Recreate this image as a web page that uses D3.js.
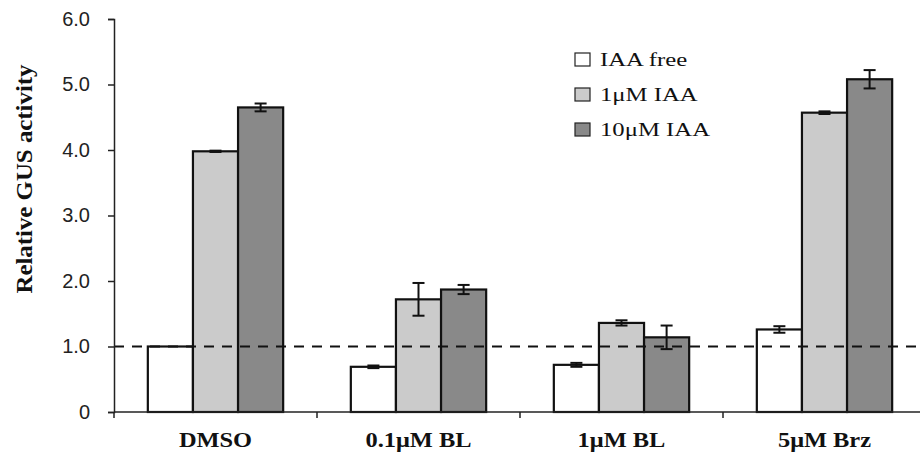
<!DOCTYPE html>
<html>
<head>
<meta charset="utf-8">
<script src="https://cdnjs.cloudflare.com/ajax/libs/d3/7.8.5/d3.min.js"></script>
<style>
  body { margin: 0; background: #fff; }
  svg { display: block; }
</style>
</head>
<body>
<div id="chart"></div>
<script>
// data
var categories = ["DMSO", "0.1\u03bcM BL", "1\u03bcM BL", "5\u03bcM Brz"];
var seriesNames = ["IAA free", "1\u03bcM IAA", "10\u03bcM IAA"];
var iaaFree   = [1.00, 0.69, 0.72, 1.26];
var iaa1      = [3.98, 1.72, 1.36, 4.57];
var iaa10     = [4.65, 1.87, 1.14, 5.08];
var errFree   = [0.00, 0.02, 0.03, 0.05];
var err1      = [0.01, 0.25, 0.04, 0.02];
var err10     = [0.06, 0.07, 0.18, 0.14];
var yTicks    = [0, 1, 2, 3, 4, 5, 6];
var refLine   = 1.0;

var colors = ["#ffffff", "#cbcbcb", "#898989"];
var width = 920, height = 463;

var svg = d3.select("#chart").append("svg")
    .attr("width", width)
    .attr("height", height);

var x = d3.scaleBand().domain(categories).range([114, 926]).padding(0);
var xs = d3.scaleBand().domain(seriesNames).range([0, x.bandwidth()]).paddingInner(0).paddingOuter(0.75);
var y = d3.scaleLinear().domain([0, 6]).range([412, 19]);

var values = [iaaFree, iaa1, iaa10];
var errors = [errFree, err1, err10];

// stretch text horizontally like the reference
function stretch(sel, k) {
  sel.each(function() {
    var w = this.getComputedTextLength();
    d3.select(this).attr("textLength", w * k).attr("lengthAdjust", "spacingAndGlyphs");
  });
}

// bars
var rows = [];
categories.forEach(function(c, i) {
  seriesNames.forEach(function(s, j) {
    rows.push({cat: c, ser: s, j: j, v: values[j][i], e: errors[j][i]});
  });
});

svg.append("g").selectAll("rect")
  .data(rows)
  .enter().append("rect")
    .attr("x", d => x(d.cat) + xs(d.ser))
    .attr("y", d => y(d.v))
    .attr("width", xs.bandwidth())
    .attr("height", d => y(0) - y(d.v))
    .attr("fill", d => colors[d.j])
    .attr("stroke", "#111")
    .attr("stroke-width", 2.2);

// error bars
var eg = svg.append("g").attr("stroke", "#111").attr("stroke-width", 2);
rows.filter(d => d.e > 0).forEach(function(d) {
  var cx = x(d.cat) + xs(d.ser) + xs.bandwidth() / 2;
  eg.append("line").attr("x1", cx).attr("x2", cx).attr("y1", y(d.v + d.e)).attr("y2", y(d.v - d.e));
  eg.append("line").attr("x1", cx - 6).attr("x2", cx + 6).attr("y1", y(d.v + d.e)).attr("y2", y(d.v + d.e));
  eg.append("line").attr("x1", cx - 6).attr("x2", cx + 6).attr("y1", y(d.v - d.e)).attr("y2", y(d.v - d.e));
});

// dashed reference line
svg.append("line")
    .attr("x1", 114).attr("x2", width)
    .attr("y1", y(refLine)).attr("y2", y(refLine))
    .attr("stroke", "#111")
    .attr("stroke-width", 2)
    .attr("stroke-dasharray", "10,8");

// y axis
var yAxis = svg.append("g")
    .attr("transform", "translate(114,0)")
    .call(d3.axisLeft(y).tickValues(yTicks).tickSize(6).tickPadding(18)
      .tickFormat(d => d === 0 ? "0" : d3.format(".1f")(d)));
yAxis.select(".domain").attr("stroke", "#222").attr("stroke-width", 1.5);
yAxis.selectAll(".tick line").attr("stroke", "#222").attr("stroke-width", 1.5);
yAxis.selectAll("text")
    .attr("font-family", "'Liberation Sans', Arial, sans-serif")
    .attr("font-size", 20)
    .attr("fill", "#222");

// x axis
svg.append("line")
    .attr("x1", 114).attr("x2", width)
    .attr("y1", y(0)).attr("y2", y(0))
    .attr("stroke", "#222").attr("stroke-width", 1.5);
svg.append("g").selectAll("line")
  .data(categories)
  .enter().append("line")
    .attr("x1", d => x(d)).attr("x2", d => x(d))
    .attr("y1", y(0)).attr("y2", y(0) + 6)
    .attr("stroke", "#222").attr("stroke-width", 1.5);

svg.append("g").selectAll("text")
  .data(categories)
  .enter().append("text")
    .attr("x", d => x(d) + x.bandwidth() / 2)
    .attr("y", 447)
    .attr("text-anchor", "middle")
    .attr("font-family", "'Liberation Serif', 'Times New Roman', serif")
    .attr("font-weight", "bold")
    .attr("font-size", 20)
    .attr("fill", "#111")
    .text(d => d)
    .call(stretch, 1.22);

// y title
svg.append("text")
    .attr("transform", "translate(32,179) rotate(-90)")
    .attr("text-anchor", "middle")
    .attr("font-family", "'Liberation Serif', 'Times New Roman', serif")
    .attr("font-weight", "bold")
    .attr("font-size", 23)
    .attr("fill", "#111")
    .text("Relative GUS activity")
    .call(stretch, 1.08);

// legend
var lg = svg.append("g").attr("transform", "translate(575,53)");
seriesNames.forEach(function(s, j) {
  var row = lg.append("g").attr("transform", "translate(0," + (j * 35) + ")");
  row.append("rect")
      .attr("width", 15).attr("height", 13)
      .attr("fill", colors[j])
      .attr("stroke", "#222").attr("stroke-width", 1.2);
  row.append("text")
      .attr("x", 25).attr("y", 13)
      .attr("font-family", "'Liberation Serif', 'Times New Roman', serif")
      .attr("font-size", 19)
      .attr("fill", "#111")
      .text(s)
      .call(stretch, 1.3);
});
</script>
</body>
</html>
